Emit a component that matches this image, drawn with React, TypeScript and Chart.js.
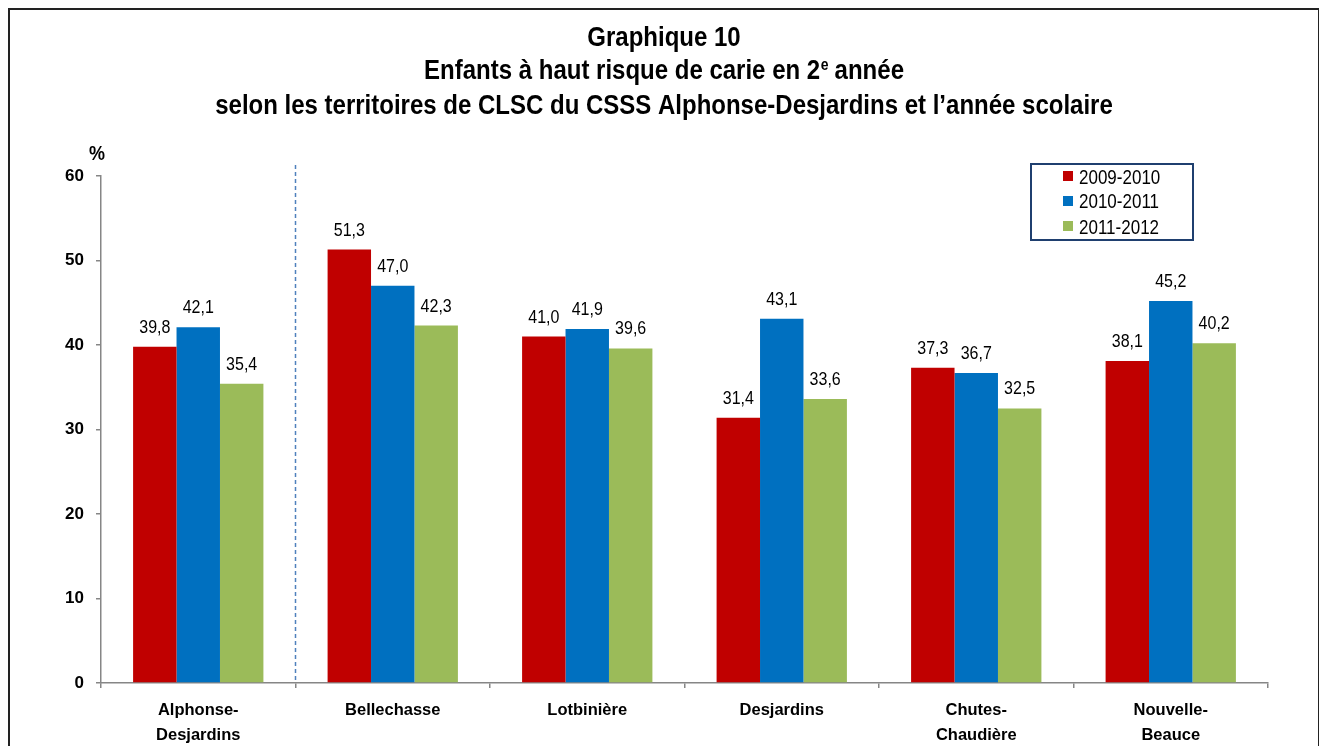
import React, { useEffect, useRef } from "react";
import { Chart, registerables } from "chart.js";

Chart.register(...registerables);

const categories: string[][] = [
  ["Alphonse-", "Desjardins"],
  ["Bellechasse"],
  ["Lotbinière"],
  ["Desjardins"],
  ["Chutes-", "Chaudière"],
  ["Nouvelle-", "Beauce"],
];
const seriesLabels = ["2009-2010", "2010-2011", "2011-2012"];
const values2009 = [39.8, 51.3, 41.0, 31.4, 37.3, 38.1];
const values2010 = [42.1, 47.0, 41.9, 43.1, 36.7, 45.2];
const values2011 = [35.4, 42.3, 39.6, 33.6, 32.5, 40.2];
const seriesColors = ["#C00000", "#0070C0", "#9BBB59"];
const yTicks = [0, 10, 20, 30, 40, 50, 60];
const titleLine1 = "Graphique 10";
const titleLine2a = "Enfants à haut risque de carie en 2";
const titleLine2sup = "e";
const titleLine2b = " année";
const titleLine3 = "selon les territoires de CLSC du CSSS Alphonse-Desjardins et l’année scolaire";

const FONT = "'Liberation Sans', Arial, sans-serif";

const W = 1308;
const H = 750;
const PLOT_LEFT = 91;
const PLOT_RIGHT = 1258;
const PLOT_TOP = 166;
const PLOT_BOTTOM = 673;
const SY = 1.15;

function sText(ctx: CanvasRenderingContext2D, text: string, x: number, y: number) {
  ctx.save();
  ctx.scale(1, SY);
  ctx.fillText(text, x, y / SY);
  ctx.restore();
}

const extrasPlugin = {
  id: "extras",
  afterDraw(chart: any) {
    const ctx = chart.ctx as CanvasRenderingContext2D;
    const x = chart.scales.x;
    const y = chart.scales.y;
    ctx.save();
    // Title
    ctx.fillStyle = "#000";
    ctx.textAlign = "center";
    ctx.textBaseline = "alphabetic";
    const cx = 654;
    ctx.font = `bold 24px ${FONT}`;
    sText(ctx, titleLine1, cx, 36);
    // line 2 with superscript
    const wA = ctx.measureText(titleLine2a).width;
    const wB = ctx.measureText(titleLine2b).width;
    ctx.font = `bold 14px ${FONT}`;
    const wS = ctx.measureText(titleLine2sup).width;
    const total = wA + wS + wB;
    let sx = cx - total / 2;
    ctx.textAlign = "left";
    ctx.font = `bold 24px ${FONT}`;
    sText(ctx, titleLine2a, sx, 69);
    sx += wA;
    ctx.font = `bold 14px ${FONT}`;
    sText(ctx, titleLine2sup, sx + 0.5, 60);
    sx += wS;
    ctx.font = `bold 24px ${FONT}`;
    sText(ctx, titleLine2b, sx, 69);
    ctx.textAlign = "center";
    sText(ctx, titleLine3, cx, 104);

    // % label
    ctx.font = `bold 18px ${FONT}`;
    sText(ctx, "%", 87, 150);

    // dashed separator
    const sepX = (x.getPixelForValue(0) + x.getPixelForValue(1)) / 2;
    ctx.strokeStyle = "#4F81BD";
    ctx.lineWidth = 1.5;
    ctx.setLineDash([4, 3]);
    ctx.beginPath();
    ctx.moveTo(sepX, PLOT_TOP - 11);
    ctx.lineTo(sepX, y.getPixelForValue(0));
    ctx.stroke();
    ctx.setLineDash([]);

    // data labels
    ctx.font = `16px ${FONT}`;
    ctx.textAlign = "center";
    ctx.textBaseline = "alphabetic";
    ctx.fillStyle = "#000";
    chart.data.datasets.forEach((ds: any, i: number) => {
      const meta = chart.getDatasetMeta(i);
      meta.data.forEach((bar: any, j: number) => {
        const v = ds.data[j] as number;
        sText(ctx, v.toFixed(1).replace(".", ","), bar.x, bar.y - 14);
      });
    });

    // legend
    const lx = 1021, ly = 154, lw = 162, lh = 76;
    ctx.strokeStyle = "#1F3F6F";
    ctx.lineWidth = 2;
    ctx.strokeRect(lx, ly, lw, lh);
    ctx.font = `17px ${FONT}`;
    ctx.textAlign = "left";
    ctx.textBaseline = "alphabetic";
    chart.data.datasets.forEach((ds: any, i: number) => {
      const iy = ly + 12 + i * 25;
      ctx.fillStyle = ds.backgroundColor;
      ctx.fillRect(lx + 32, iy - 5, 10, 10);
      ctx.fillStyle = "#000";
      sText(ctx, ds.label, lx + 48, iy + 7.5);
    });
    ctx.restore();
  },
};

export default function App() {
  const ref = useRef<HTMLCanvasElement>(null);
  useEffect(() => {
    if (!ref.current) return;
    const chart = new Chart(ref.current, {
      type: "bar",
      data: {
        labels: categories,
        datasets: [values2009, values2010, values2011].map((d, i) => ({
          label: seriesLabels[i],
          data: d,
          backgroundColor: seriesColors[i],
          borderWidth: 0,
          categoryPercentage: 0.67,
          barPercentage: 1.0,
        })),
      },
      options: {
        animation: false,
        responsive: false,
        maintainAspectRatio: false,
        devicePixelRatio: 1,
        layout: { padding: { left: 0, right: W - PLOT_RIGHT, top: PLOT_TOP, bottom: 0 } },
        plugins: {
          legend: { display: false },
          title: { display: false },
          tooltip: { enabled: false },
        },
        scales: {
          x: {
            grid: {
              display: true,
              drawOnChartArea: false,
              offset: true,
              tickLength: 5,
              color: "#868686",
              lineWidth: 1.5,
            },
            border: { display: true, color: "#868686", width: 1.5 },
            ticks: {
              color: "#000",
              font: { family: FONT, size: 16.5, weight: "bold", lineHeight: 1.5 },
              padding: 10,
              maxRotation: 0,
              autoSkip: false,
            },
            afterFit(scale: any) {
              scale.height = H - PLOT_BOTTOM;
            },
          },
          y: {
            min: 0,
            max: 60,
            afterBuildTicks(scale: any) {
              scale.ticks = yTicks.map((v) => ({ value: v }));
            },
            grid: {
              display: true,
              drawOnChartArea: false,
              tickLength: 5,
              color: "#868686",
              lineWidth: 1.5,
            },
            border: { display: true, color: "#868686", width: 1.5 },
            ticks: {
              color: "#000",
              font: { family: FONT, size: 17, weight: "bold" },
              padding: 12,
            },
            afterFit(scale: any) {
              scale.width = PLOT_LEFT;
            },
          },
        },
      },
      plugins: [extrasPlugin],
    });
    return () => chart.destroy();
  }, []);
  return (
    <div
      style={{
        width: 1308,
        height: 760,
        border: "2px solid #222",
        background: "#fff",
        position: "relative",
      }}
    >
      <canvas ref={ref} width={W} height={H} style={{ display: "block", width: W, height: H }} />
    </div>
  );
}
